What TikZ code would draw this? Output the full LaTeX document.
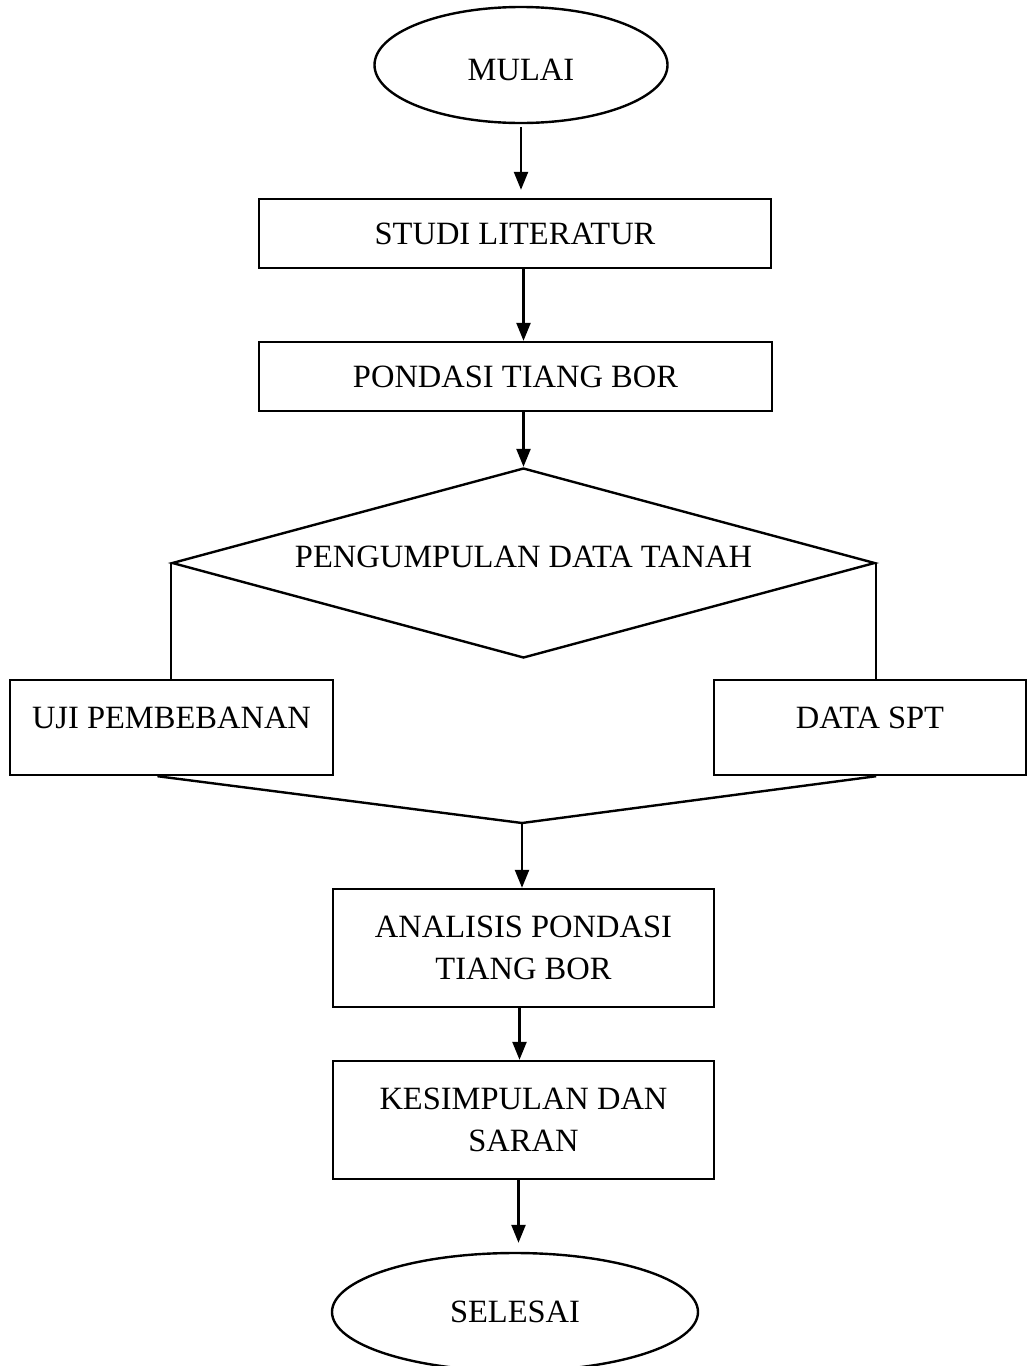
\documentclass[tikz,border=0pt]{standalone}
\usepackage{fontspec}
\setmainfont{Liberation Serif}
\usetikzlibrary{arrows.meta,shapes.geometric,positioning}

\begin{document}
\begin{tikzpicture}[x=1pt,y=-1pt,>={Triangle[length=18pt,width=14pt]},line width=2.4pt,
  every node/.style={font=\fontsize{32.5}{42}\selectfont,align=center,inner sep=0pt},
  term/.style={draw,ellipse},
  proc/.style={draw,rectangle},
  decide/.style={draw,diamond,aspect=3.7}]
\useasboundingbox (0,0) rectangle (1028,1366);
% start and first steps
\node[term,minimum width=293pt,minimum height=116pt,text height=32pt] (mulai) at (521,65) {MULAI};
\node[proc,minimum width=512pt,minimum height=69pt] (studi) at (515,233.5) {STUDI LITERATUR};
\node[proc,minimum width=513pt,minimum height=69pt] (pondasi) at (515.5,376.5) {PONDASI TIANG BOR};
\node[decide,minimum width=703pt,minimum height=190pt,text depth=12pt] (tanah) at (523.5,563) {PENGUMPULAN DATA TANAH};
% two data sources
\node[proc,minimum width=323pt,minimum height=95pt,text depth=20pt] (uji) at (171.5,727.5) {UJI PEMBEBANAN};
\node[proc,minimum width=312pt,minimum height=95pt,text depth=20pt] (spt) at (870,727.5) {DATA SPT};
\coordinate (gabung) at (522,823);
% analysis and end
\node[proc,minimum width=381pt,minimum height=118pt] (analisis) at (523.5,948) {ANALISIS PONDASI\\TIANG BOR};
\node[proc,minimum width=381pt,minimum height=118pt] (kesimpulan) at (523.5,1120) {KESIMPULAN DAN\\SARAN};
\node[term,minimum width=366pt,minimum height=118pt] (selesai) at (515,1312) {SELESAI};

\draw[->,shorten >=8pt,shorten <=3pt] (mulai) -- (mulai |- studi.north);
\draw[->] (studi.south -| tanah) -- (pondasi.north -| tanah);
\draw[->] (pondasi.south -| tanah) -- (tanah.north);
\draw (tanah.west) -- (tanah.west |- uji.north);
\draw (tanah.east) -- (tanah.east |- spt.north);
\draw ([xshift=-14pt]uji.south) -- (gabung) -- (spt.south -| tanah.east);
\draw[->] (gabung) -- (gabung |- analisis.north);
\draw[->] ([xshift=-4pt]analisis.south) -- ([xshift=-4pt]kesimpulan.north);
\draw[->,shorten >=9pt] ([xshift=-5pt]kesimpulan.south) -- ([xshift=-5pt]kesimpulan.south |- selesai.north);
\end{tikzpicture}
\end{document}
